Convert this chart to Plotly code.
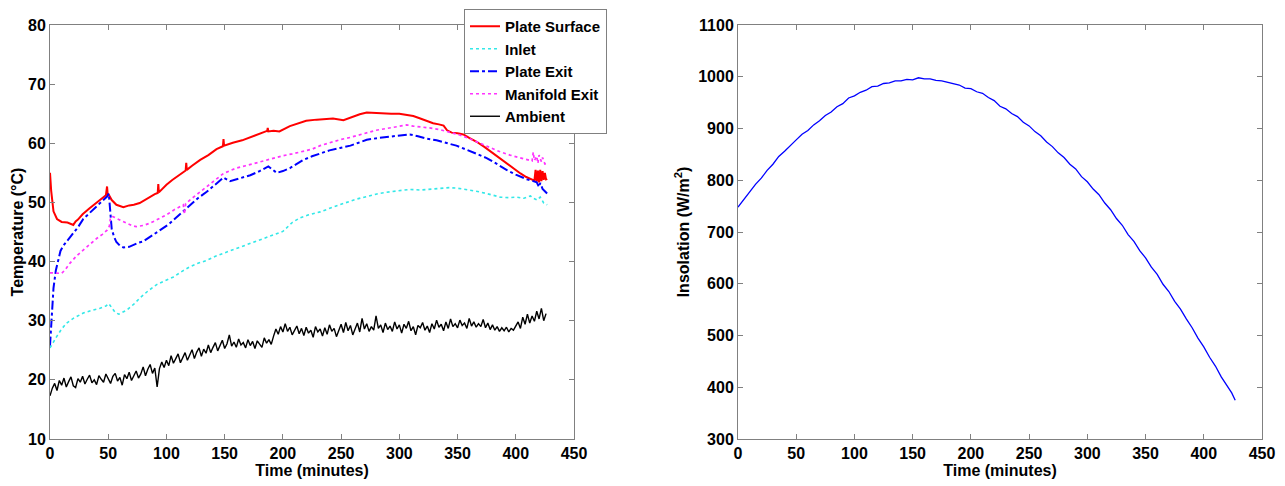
import plotly.graph_objects as go

# ---------------- data: left panel (temperatures, deg C vs minutes) -------------
surface_t = [0, 1, 3, 6, 10, 15, 20, 22, 24, 28, 34, 40, 44, 48, 49, 49.5, 50.5, 53, 57, 63, 68, 72, 77,
             82, 86, 90, 92.5, 93, 93.5, 97, 100, 105, 109, 114, 116.5, 117, 117.5, 122, 129, 136, 143,
             148.5, 149, 149.5, 157, 165, 172, 180, 186.5, 187, 187.5, 192, 197, 206, 213, 220, 229, 237,
             243, 252, 260, 266, 272, 279, 286, 293, 300, 306, 312, 318, 323, 329, 334, 338, 341, 345,
             350, 355, 360, 366, 373, 380, 386, 392, 398, 404, 409, 414, 416, 417, 418, 419, 420, 421,
             422, 423, 424, 425, 426, 427]
surface_v = [55.0, 52.0, 48.5, 47.2, 46.7, 46.6, 46.2, 46.8, 47.1, 48.0, 49.0, 49.9, 50.5, 51.2, 52.7, 51.4,
             51.3, 50.4, 49.6, 49.2, 49.5, 49.6, 49.9, 50.5, 51.0, 51.4, 51.6, 53.1, 51.7, 52.4, 53.0, 53.8,
             54.4, 55.1, 55.4, 56.7, 55.5, 56.2, 57.2, 58.0, 59.0, 59.5, 60.7, 59.6, 60.1, 60.5, 61.0, 61.6,
             62.1, 62.6, 62.0, 62.1, 62.0, 62.9, 63.4, 63.8, 64.0, 64.1, 64.2, 63.9, 64.5, 64.9, 65.2, 65.1,
             65.1, 65.0, 65.0, 64.8, 64.6, 64.2, 63.8, 63.4, 63.2, 63.0, 62.2, 61.8, 61.7, 61.5, 60.9, 60.3,
             59.4, 58.4, 57.5, 56.6, 55.7, 54.9, 54.3, 53.9, 53.7, 55.5, 53.5, 55.4, 53.4, 55.5, 53.6, 55.3,
             53.8, 55.0, 53.9, 54.0]

inlet_t = [0, 3, 5.7, 10, 14.3, 20, 28.6, 35, 43, 48, 50.5, 53, 56, 59, 62, 66, 72, 77, 84, 91.6, 99, 106,
           113, 120, 127, 134.6, 142, 149, 156, 163, 172, 180, 190, 200, 208, 214.7, 222, 232, 243, 252,
           262, 272, 282, 292, 300, 309, 318, 326, 335, 343, 350, 358, 366, 375, 381, 386.6, 394, 401,
           407, 412.6, 415, 418.4, 421, 424, 427]
inlet_v = [25.4, 26.5, 27.3, 28.6, 29.6, 30.4, 31.3, 31.7, 32.1, 32.5, 32.9, 32.2, 31.4, 31.1, 31.4, 31.8,
           32.8, 33.8, 35.0, 36.1, 36.8, 37.4, 38.3, 39.1, 39.7, 40.2, 40.9, 41.4, 41.9, 42.5, 43.1, 43.6,
           44.3, 45.1, 46.6, 47.4, 47.9, 48.4, 49.2, 49.8, 50.5, 51.0, 51.5, 51.8, 52.0, 52.2, 52.1, 52.2,
           52.4, 52.5, 52.4, 52.2, 51.9, 51.5, 51.2, 50.9, 50.8, 50.9, 50.7, 51.1, 50.7, 50.4, 50.9, 49.9,
           49.6]

plate_exit_t = [0, 1, 2, 3, 5, 7, 9, 11.5, 15, 20, 24, 28.6, 34, 40, 45, 49, 50.5, 52, 53, 55, 57, 60, 63,
                68, 72, 76, 80, 86, 91.6, 97, 102, 106, 112, 120, 127, 134.6, 142, 149, 154.6, 162, 172,
                180, 187.5, 194.7, 200, 206, 212, 217.6, 225, 232, 240, 249, 258, 265, 272, 282, 292, 300,
                309, 316, 323.5, 332, 340.6, 349, 358, 366, 375, 383, 392, 400, 409.6, 415, 418, 420, 421,
                423, 425, 427]
plate_exit_v = [25.8, 29.0, 33.0, 35.5, 38.5, 40.3, 41.8, 42.7, 43.6, 44.8, 45.8, 47.2, 48.2, 49.2, 50.2,
                51.0, 51.5, 48.0, 45.5, 44.2, 43.3, 42.7, 42.4, 42.5, 42.9, 43.2, 43.4, 44.2, 44.8, 45.6,
                46.3, 47.0, 48.1, 49.5, 50.7, 51.8, 53.0, 54.2, 53.6, 54.0, 54.6, 55.3, 56.1, 55.0, 55.3,
                55.8, 56.6, 57.2, 57.8, 58.3, 58.8, 59.2, 59.6, 60.1, 60.6, 60.9, 61.1, 61.3, 61.5, 61.2,
                60.8, 60.5, 60.1, 59.6, 58.9, 58.3, 57.5, 56.6, 55.5, 54.7, 53.9, 53.6, 53.4, 52.6, 53.3,
                52.3, 51.8, 51.5]

manifold_t = [0, 5, 10, 13, 17, 23, 28.6, 34, 40, 45, 49, 51, 52, 54, 57, 61, 66, 70, 74, 80, 86, 93, 100,
              107, 114.5, 115.5, 116.5, 122, 129, 136, 143, 149, 155, 160, 168, 177.5, 188, 200, 208,
              217.6, 225, 232, 240, 249, 258, 265, 272, 280, 289, 298, 306.5, 312, 318, 326, 335, 343,
              352, 360, 369, 377, 386, 395, 404, 410, 414, 415, 416, 418, 419, 420, 422, 423, 425, 427]
manifold_v = [38.1, 38.0, 38.0, 38.6, 39.7, 41.0, 42.0, 42.9, 43.9, 44.6, 45.3, 46.0, 47.5, 47.6, 47.3,
              46.9, 46.5, 46.1, 45.9, 46.1, 46.5, 47.2, 47.9, 48.8, 49.6, 48.0, 49.8, 50.7, 51.8, 52.9,
              53.9, 54.9, 55.4, 55.8, 56.2, 56.7, 57.3, 57.9, 58.2, 58.6, 59.0, 59.6, 60.1, 60.6, 61.0,
              61.4, 61.8, 62.2, 62.5, 62.8, 63.1, 62.9, 62.8, 62.6, 62.3, 61.9, 61.4, 60.8, 60.0, 59.3,
              58.6, 58.0, 57.5, 57.2, 57.0, 58.5, 57.1, 57.8, 56.6, 58.0, 56.9, 57.6, 56.5, 56.6]

ambient_t = list(range(0, 427, 2))
ambient_v = [17.3, 18.6, 19.4, 18.2, 19.9, 19.1, 20.3, 18.8, 19.7, 20.5, 19.0, 18.7, 20.2, 19.6, 20.6,
             19.3, 20.1, 20.8, 19.5, 20.0, 19.2, 20.7, 20.1, 19.6, 21.0, 20.3, 19.4, 20.6, 21.1, 19.8,
             20.4, 19.1, 20.9, 20.2, 21.3, 19.9, 20.6, 21.5, 20.3, 21.0, 22.2, 20.7, 21.8, 22.6, 21.1,
             22.0, 18.8, 21.9, 23.0, 22.1, 23.3, 22.4, 24.1, 22.8, 23.6, 24.4, 22.9, 23.8, 24.6, 23.3,
             24.2, 25.1, 23.6, 24.7, 25.4, 24.0, 25.2, 24.5, 25.9, 24.6, 25.5, 26.3, 24.9, 25.8, 26.7,
             25.3, 26.1, 27.6, 25.7, 26.4, 25.5, 26.9, 25.9, 26.3, 25.4, 26.8, 25.8, 26.5, 25.3, 26.6,
             26.0, 25.5, 27.1, 26.2, 26.8, 26.0, 27.4, 28.6, 27.7, 29.0, 28.1, 29.5, 28.2, 28.9, 27.6,
             28.5, 29.1, 27.8, 28.7, 27.5, 28.9, 27.9, 28.4, 27.2, 29.0, 28.1, 28.6, 27.4, 28.8, 27.7,
             29.3, 28.2, 28.7, 27.3, 28.5, 29.4, 28.0, 29.7, 28.3, 29.2, 27.6, 28.8, 29.6, 28.1, 30.4,
             28.6, 29.5, 28.2, 29.0, 28.4, 30.8, 28.7, 29.3, 28.0, 29.6, 28.5, 29.1, 28.2, 29.8, 28.6,
             29.3, 27.9, 29.4, 28.7, 29.9, 28.3, 29.0, 27.6, 29.2, 28.8, 29.7, 28.4, 29.1, 28.0, 29.5,
             28.6, 30.1, 28.9, 29.4, 28.3, 29.8, 28.7, 30.3, 29.0, 29.5, 28.8, 30.1, 29.2, 29.6, 28.7,
             30.4, 29.1, 29.8, 28.9, 29.5, 29.0, 30.2, 28.8, 29.6, 28.5, 29.3, 28.4, 29.0, 28.2, 28.8,
             28.3, 28.9, 28.1, 28.7, 28.4, 29.0, 29.8, 28.7, 30.6, 29.4, 31.1, 29.6, 30.8, 29.9, 31.6,
             30.3, 32.1, 30.0, 31.2]

# ---------------- data: right panel (insolation, W/m2 vs minutes) ---------------
insol_t = [0, 5, 10, 15, 20, 25, 30, 35, 40, 45, 50, 55, 60, 65, 70, 75, 80, 85, 90, 95, 100, 105, 110,
           115, 120, 125, 130, 135, 140, 145, 150, 155, 160, 165, 170, 175, 180, 185, 190, 195, 200, 205,
           210, 215, 220, 225, 230, 235, 240, 245, 250, 255, 260, 265, 270, 275, 280, 285, 290, 295, 300,
           305, 310, 315, 320, 325, 330, 335, 340, 345, 350, 355, 360, 365, 370, 375, 380, 385, 390, 395,
           400, 405, 410, 415, 420, 424, 427]
insol_v = [748, 763, 776, 792, 804, 819, 831, 846, 856, 868, 878, 889, 896, 907, 915, 925, 932, 942, 948,
           959, 963, 970, 974, 981, 982, 987, 988, 992, 992, 995, 994, 998, 996, 996, 993, 992, 989, 986,
           984, 978, 977, 971, 968, 960, 954, 943, 938, 929, 923, 912, 905, 894, 886, 874, 865, 853, 844,
           831, 822, 807, 797, 783, 772, 756, 743, 726, 713, 695, 682, 664, 650, 632, 618, 599, 585, 566,
           551, 532, 515, 495, 478, 458, 441, 420, 404, 389, 375]

x_ticks = [0, 50, 100, 150, 200, 250, 300, 350, 400, 450]

FONT = "Arial, Liberation Sans, sans-serif"
AXCOL = "#808080"

# page body has an 8px default margin: figure is laid out in page pixels minus 8
W, H = 1277, 478
OFF = 8


def fx(px):
    return (px - OFF) / W


def fy(py):
    return 1 - (py - OFF) / H


fig = go.Figure()
fig.add_trace(go.Scatter(x=surface_t, y=surface_v, name="Plate Surface", mode="lines",
                         line=dict(color="#FF0000", width=2), xaxis="x", yaxis="y"))
fig.add_trace(go.Scatter(x=inlet_t, y=inlet_v, name="Inlet", mode="lines",
                         line=dict(color="#33E8E8", width=1.6, dash="dot"), xaxis="x", yaxis="y"))
fig.add_trace(go.Scatter(x=plate_exit_t, y=plate_exit_v, name="Plate Exit", mode="lines",
                         line=dict(color="#0000FF", width=2, dash="dashdot"), xaxis="x", yaxis="y"))
fig.add_trace(go.Scatter(x=manifold_t, y=manifold_v, name="Manifold Exit", mode="lines",
                         line=dict(color="#FF33FF", width=1.7, dash="dot"), xaxis="x", yaxis="y"))
fig.add_trace(go.Scatter(x=ambient_t, y=ambient_v, name="Ambient", mode="lines",
                         line=dict(color="#000000", width=1.4), xaxis="x", yaxis="y"))
fig.add_trace(go.Scatter(x=insol_t, y=insol_v, name="Insolation", mode="lines", showlegend=False,
                         line=dict(color="#0000FF", width=1.3), xaxis="x2", yaxis="y2"))

common_axis = dict(showline=True, linecolor=AXCOL, linewidth=1, mirror="ticks", ticks="inside",
                   ticklen=5, tickcolor=AXCOL, showgrid=False, zeroline=False, automargin=False,
                   tickfont=dict(family=FONT, size=16, color="#000000", weight="bold"))

fig.update_layout(
    width=W, height=H,
    margin=dict(l=0, r=0, t=0, b=0, autoexpand=False),
    paper_bgcolor="white", plot_bgcolor="white",
    font=dict(family=FONT, color="#000000"),
    xaxis=dict(domain=[fx(50), fx(574)], range=[0, 450], tickvals=x_ticks, anchor="y",
               title=dict(text="Time (minutes)", standoff=2,
                          font=dict(family=FONT, size=16, weight="bold")), **common_axis),
    yaxis=dict(domain=[fy(439), fy(25)], range=[10, 80], dtick=10, anchor="x",
               title=dict(text="Temperature (°C)", standoff=0,
                          font=dict(family=FONT, size=16, weight="bold")), **common_axis),
    xaxis2=dict(domain=[fx(738), fx(1262)], range=[0, 450], tickvals=x_ticks, anchor="y2",
                title=dict(text="Time (minutes)", standoff=2,
                           font=dict(family=FONT, size=16, weight="bold")), **common_axis),
    yaxis2=dict(domain=[fy(439), fy(25)], range=[300, 1100], dtick=100, anchor="x2",
                title=dict(text="Insolation (W/m<sup>2</sup>)", standoff=4,
                           font=dict(family=FONT, size=16, weight="bold")), **common_axis),
    legend=dict(x=fx(464), y=fy(9), xanchor="left", yanchor="top",
                bgcolor="white", bordercolor=AXCOL, borderwidth=1,
                font=dict(family=FONT, size=15, color="#000000", weight="bold"),
                tracegroupgap=0, itemwidth=30),
    showlegend=True,
)

fig.write_html("out.html")
